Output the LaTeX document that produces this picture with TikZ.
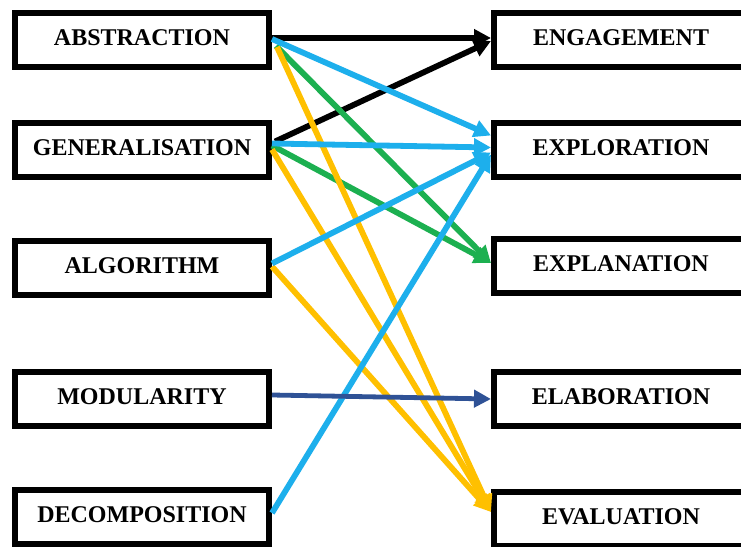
\documentclass[tikz,border=0pt]{standalone}
\usepackage{fontspec}
\setmainfont{Liberation Serif}
\usetikzlibrary{arrows.meta}
\definecolor{cblue}{RGB}{29,175,236}
\definecolor{cgreen}{RGB}{28,176,80}
\definecolor{cyellow}{RGB}{255,192,0}
\definecolor{cnavy}{RGB}{47,82,150}
\begin{document}
\begin{tikzpicture}[x=1pt,y=-1pt,
  box/.style={draw,line width=6pt,minimum width=254pt,minimum height=54pt,inner sep=0pt,
    font=\fontsize{24}{28}\selectfont\bfseries,text height=16pt,text depth=5pt},
  conn/.style={line width=5.8pt,-{Triangle[length=17pt,width=17pt]}},
  ]
\clip (0,0) rectangle (741,546);
\fill[white] (0,0) rectangle (741,546);
% left column
\node[box] (abs) at (142,40) {ABSTRACTION};
\node[box] (gen) at (142,149.5) {GENERALISATION};
\node[box] (alg) at (142,267.5) {ALGORITHM};
\node[box] (mod) at (142,399) {MODULARITY};
\node[box] (dec) at (142,517) {DECOMPOSITION};
% right column
\node[box] (eng) at (621,40) {ENGAGEMENT};
\node[box] (exr) at (621,149.5) {EXPLORATION};
\node[box] (exn) at (621,266) {EXPLANATION};
\node[box] (ela) at (621,399) {ELABORATION};
\node[box] (eva) at (621,519) {EVALUATION};
% connectors
\draw[conn,black] ([yshift=2pt]abs.east) -- ([yshift=2pt]eng.west);
\draw[conn,black] ([yshift=8pt,xshift=3pt]gen.east) -- ([yshift=-1pt]eng.west);
\draw[conn,cgreen] ([yshift=-6pt,xshift=4pt]abs.east) -- ([yshift=3pt]exn.west);
\draw[conn,cgreen] ([yshift=4pt]gen.east) -- ([yshift=3pt]exn.west);
\draw[conn,cyellow] ([yshift=-7pt,xshift=5pt]abs.east) -- ([yshift=7pt]eva.west);
\draw[conn,cyellow] ([yshift=0pt]gen.east) -- ([yshift=7pt]eva.west);
\draw[conn,cyellow] ([yshift=1pt]alg.east) -- ([yshift=7pt]eva.west);
\draw[conn,cblue] ([yshift=1pt]abs.east) -- ([yshift=14pt]exr.west);
\draw[conn,cblue] ([yshift=6pt]gen.east) -- ([yshift=2pt]exr.west);
\draw[conn,cblue] ([yshift=4pt]alg.east) -- ([yshift=-3pt]exr.west);
\draw[conn,cblue] ([yshift=4pt]dec.east) -- ([yshift=-5pt]exr.west);
\draw[conn,cnavy,line width=4.8pt] ([yshift=4pt]mod.east) -- (ela.west);
\end{tikzpicture}
\end{document}
